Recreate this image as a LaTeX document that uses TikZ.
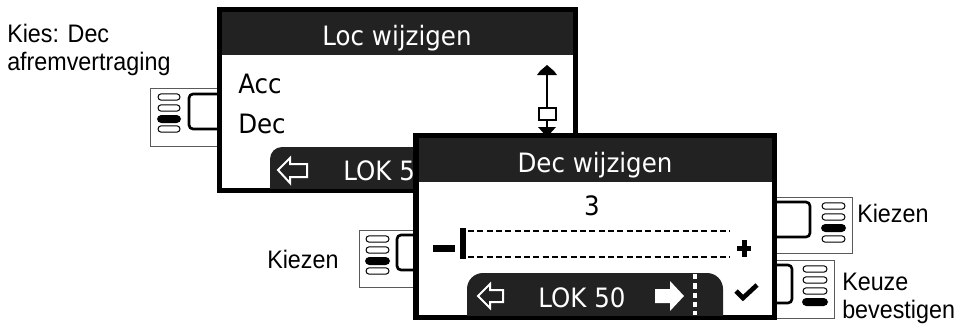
\documentclass[tikz,border=0pt]{standalone}
\usepackage{fontspec}
\setmainfont[FakeStretch=0.92]{Liberation Sans}
\newfontfamily\lcdfont[FakeStretch=0.92]{DejaVu Sans}
\usepackage{tikz}
\usetikzlibrary{positioning}
\definecolor{schermgrijs}{HTML}{222222}
\definecolor{kadergrijs}{HTML}{5A5A5A}

\begin{document}
\begin{tikzpicture}[x=0.75pt,y=-0.75pt, % 1 eenheid = 1 pixel
    lbl/.style={font=\fontsize{19}{21}\selectfont, inner sep=0pt, align=left, anchor=base west},
    lcd/.style={font=\lcdfont\fontsize{20}{24}\selectfont, inner sep=0pt, anchor=base},
    knopkader/.style={draw=kadergrijs, line width=0.75pt, fill=white},
    knop/.style={draw=black, line width=2pt, rounded corners=3pt, fill=white},
    ovaal/.style={draw=black, line width=0.75pt, fill=white, rounded corners=2.4pt},
    ovaalvol/.style={fill=black, rounded corners=3.2pt},
    balk/.style={fill=schermgrijs}]

    \useasboundingbox (0,0) rectangle (961,325);

    % Knop links (onder scherm 1)
    \draw[knopkader] (150,88) rectangle (230,146);
    \draw[knop] (189,94) rectangle (240,129);
    \foreach \y in {97,108,129} \draw[ovaal] (158,\y-3.2) rectangle (180,\y+3.2);
    \fill[ovaalvol] (157,115) rectangle (181,123);

    % Scherm 1
    \fill[black] (217,7) rectangle (578,193);
    \fill[white] (222,12) rectangle (573,188);
    \fill[balk] (222,12) rectangle (573,55);
    \node[lcd, text=white] (titel1) at (397,45) {Loc wijzigen};
    \node[lcd, anchor=base west] (acc) at (238,93) {Acc};
    \node[lcd, anchor=base west] (dec) at (238,133) {Dec};

    % Schuifbalk rechts
    \fill[black] (537,75) -- (540,71) -- (547,65) -- (554,71) -- (557,75) -- cycle;
    \draw[line width=1.5pt] (547,75) -- (547,108);
    \draw[line width=1.5pt, fill=white] (539,108) rectangle (556,120);
    \draw[line width=1.5pt] (547,120) -- (547,127);
    \fill[black] (538,127) -- (556,127) -- (547,137) -- cycle;

    % Onderbalk scherm 1
    \begin{scope}
        \clip (222,12) rectangle (573,188);
        \fill[balk, rounded corners=9pt] (270,147) rectangle (600,220);
    \end{scope}
    \draw[white, line width=1.5pt] (278,170) -- (290,158) -- (290,164) -- (307,164)
        -- (307,177) -- (290,177) -- (290,183) -- cycle;
    \node[lcd, text=white, anchor=base west] (lok1) at (343,180) {LOK 50};

    % Knop midden links
    \draw[knopkader] (359,230) rectangle (430,287);
    \draw[knop] (397,235) rectangle (440,270);
    \foreach \y in {239,250,271} \draw[ovaal] (366,\y-3.2) rectangle (389,\y+3.2);
    \fill[ovaalvol] (365,257) rectangle (390,265);

    % Knoppen rechts
    \draw[knopkader] (760,197) rectangle (852,253);
    \draw[knop] (760,202) rectangle (810,237);
    \foreach \y in {206,217,239} \draw[ovaal] (822,\y-3.2) rectangle (845,\y+3.2);
    \fill[ovaalvol] (821,224) rectangle (846,232);

    \draw[knopkader] (760,260) rectangle (834,318);
    \draw[knop] (760,265) rectangle (792,303);
    \foreach \y in {269,280,291} \draw[ovaal] (803,\y-3.2) rectangle (827,\y+3.2);
    \fill[ovaalvol] (802,298) rectangle (828,306);

    % Scherm 2
    \fill[black] (413,133) rectangle (777,320);
    \fill[white] (419,138) rectangle (772,315);
    \fill[balk] (419,138) rectangle (772,182);
    \node[lcd, text=white] (titel2) at (595,172) {Dec wijzigen};
    \node[lcd] (waarde) at (592,215) {3};

    % Schuifregelaar
    \fill[black] (433,245) rectangle (455,252); % min
    \fill[black] (460,228) rectangle (466,259);
    \draw[line width=2pt, dash pattern=on 4.5pt off 2.5pt] (468,231) -- (730,231);
    \draw[line width=2pt, dash pattern=on 4.5pt off 2.5pt] (468,257) -- (730,257);
    \fill[black] (737,246) rectangle (751,251); % plus
    \fill[black] (741.5,240) rectangle (746.5,257);

    % Onderbalk scherm 2
    \begin{scope}
        \clip (419,138) rectangle (772,315);
        \fill[balk, rounded corners=12pt] (467,273) rectangle (723,340);
    \end{scope}
    \draw[white, line width=1.5pt] (478,296) -- (490,284) -- (490,290) -- (503,290)
        -- (503,302) -- (490,302) -- (490,308) -- cycle;
    \node[lcd, text=white, anchor=base west] (lok2) at (538,307) {LOK 50};
    \fill[white] (655,289) -- (670,289) -- (670,281) -- (684,296) -- (670,311)
        -- (670,303) -- (655,303) -- cycle;
    \draw[white, line width=3.5pt, dash pattern=on 4pt off 3pt] (695,274) -- (695,315);
    \draw[black, line width=3.5pt] (736,291) -- (743,298) -- (757,285); % vinkje

    % Teksten
    \node[lbl] (kies) at (7,70) {Kies: Dec\\afremvertraging};
    \node[lbl] (kiezenL) at (267,268) {Kiezen};
    \node[lbl] (kiezenR) at (857,222) {Kiezen};
    \node[lbl] (keuze) at (842,318) {Keuze\\bevestigen};

\end{tikzpicture}
\end{document}
